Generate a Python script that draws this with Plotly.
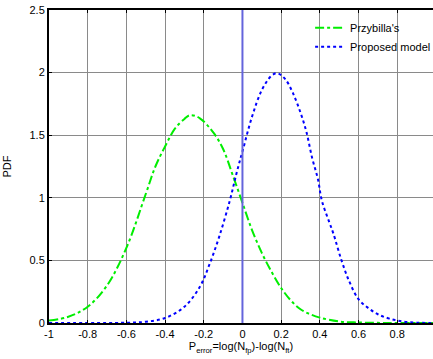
import plotly.graph_objects as go

# Przybilla's curve (green, dash-dot)
x_przy = [-1.0, -0.9, -0.8, -0.7, -0.6, -0.5, -0.45, -0.4, -0.35, -0.3, -0.27, -0.22,
          -0.15, -0.1, -0.05, 0.0, 0.05, 0.1, 0.15, 0.2, 0.25, 0.3, 0.35, 0.4, 0.5,
          0.6, 0.7, 0.8, 0.985]
y_przy = [0.02, 0.05, 0.13, 0.30, 0.60, 1.03, 1.25, 1.41, 1.55, 1.63, 1.66, 1.635,
          1.52, 1.39, 1.18, 0.96, 0.74, 0.56, 0.41, 0.28, 0.18, 0.11, 0.07, 0.043, 0.012,
          0.004, 0.001, 0.0, 0.0]

# Proposed model curve (blue, dotted)
x_prop = [-1.0, -0.6, -0.5, -0.4, -0.3, -0.22, -0.17, -0.12, -0.065, -0.03, 0.0, 0.05,
          0.1, 0.15, 0.18, 0.22, 0.26, 0.3, 0.33, 0.36, 0.39, 0.41, 0.45, 0.47, 0.51,
          0.55, 0.6, 0.65, 0.7, 0.76, 0.85, 0.985]
y_prop = [0.0, 0.002, 0.01, 0.04, 0.13, 0.29, 0.47, 0.69, 0.98, 1.2, 1.37, 1.65,
          1.86, 1.975, 1.995, 1.95, 1.84, 1.68, 1.53, 1.32, 1.15, 0.98, 0.80, 0.715, 0.51,
          0.34, 0.19, 0.12, 0.07, 0.035, 0.008, 0.0]

ref_x = 0  # vertical reference line

x_ticks = [-1, -0.8, -0.6, -0.4, -0.2, 0, 0.2, 0.4, 0.6, 0.8]
x_tick_labels = ["-1", "-0.8", "-0.6", "-0.4", "-0.2", "0", "0.2", "0.4", "0.6", "0.8"]
y_ticks = [0, 0.5, 1, 1.5, 2, 2.5]
y_tick_labels = ["0", "0.5", "1", "1.5", "2", "2.5"]

fig = go.Figure()
fig.add_trace(go.Scatter(x=x_przy, y=y_przy, mode="lines", name="Przybilla's",
                         line=dict(color="#00ee00", width=2, dash="dashdot"),
                         line_shape="spline"))
fig.add_trace(go.Scatter(x=x_prop, y=y_prop, mode="lines", name="Proposed model",
                         line=dict(color="#0000ff", width=2, dash="dot"),
                         line_shape="spline"))
fig.add_shape(type="line", xref="x", yref="paper", x0=ref_x, x1=ref_x, y0=0, y1=1,
              line=dict(color="#6464dc", width=2), layer="above")

font = dict(family="Liberation Sans, Arial, sans-serif", size=11, color="#000")
fig.update_layout(
    width=433, height=359,
    margin=dict(l=49, r=0, t=10, b=36, autoexpand=False),
    paper_bgcolor="white", plot_bgcolor="white",
    font=font,
    showlegend=True,
    legend=dict(x=0.68, y=0.99, xanchor="left", yanchor="top",
                bgcolor="rgba(0,0,0,0)", borderwidth=0, font=font,
                tracegroupgap=0, itemwidth=30),
    xaxis=dict(range=[-1, 0.985], tickvals=x_ticks, ticktext=x_tick_labels,
               showgrid=True, gridcolor="#8a8a8a", gridwidth=1,
               showline=True, linecolor="#000", linewidth=2, mirror="ticks",
               ticks="inside", ticklen=3, tickcolor="#000", zeroline=False,
               title=dict(text="P<sub>error</sub>=log(N<sub>fp</sub>)-log(N<sub>ft</sub>)",
                          font=font, standoff=2)),
    yaxis=dict(range=[0, 2.5], tickvals=y_ticks, ticktext=y_tick_labels,
               showgrid=True, gridcolor="#8a8a8a", gridwidth=1,
               showline=True, linecolor="#000", linewidth=2, mirror=False,
               ticks="inside", ticklen=3, tickcolor="#000", zeroline=False,
               title=dict(text="PDF", font=font, standoff=16)),
)

fig.write_html("out.html")
